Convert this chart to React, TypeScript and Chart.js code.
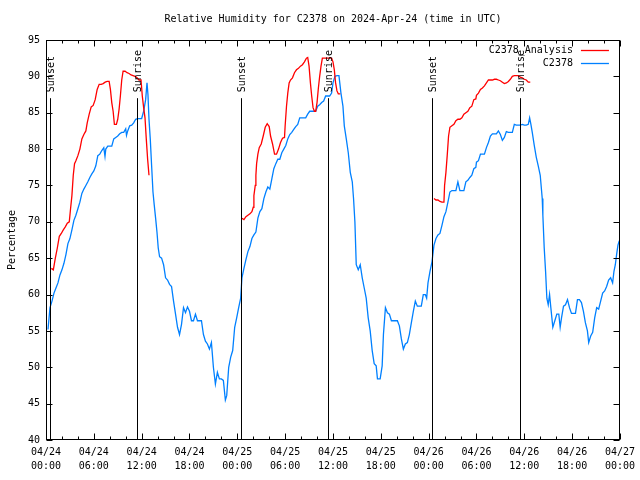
import React, { useEffect, useRef } from "react";
import { Chart, registerables } from "chart.js";

Chart.register(...registerables);

const TITLE = "Relative Humidity for C2378 on 2024-Apr-24 (time in UTC)";
const Y_LABEL = "Percentage";
const FONT = "'DejaVu Sans Mono', 'Liberation Mono', monospace";

const X_MIN = 0;
const X_MAX = 72;
const X_MINOR_STEP = 2;
const X_TICK_HOURS = [0, 6, 12, 18, 24, 30, 36, 42, 48, 54, 60, 66, 72];
const X_TICK_LABELS = [
  ["04/24", "00:00"], ["04/24", "06:00"], ["04/24", "12:00"], ["04/24", "18:00"],
  ["04/25", "00:00"], ["04/25", "06:00"], ["04/25", "12:00"], ["04/25", "18:00"],
  ["04/26", "00:00"], ["04/26", "06:00"], ["04/26", "12:00"], ["04/26", "18:00"],
  ["04/27", "00:00"],
];
const Y_MIN = 40;
const Y_MAX = 95;
const Y_STEP = 5;

const EVENT_HOURS = [0.5, 11.4, 24.5, 35.4, 48.4, 59.4];
const EVENT_LABELS = ["Sunset", "Sunrise", "Sunset", "Sunrise", "Sunset", "Sunrise"];
const EVENT_LINE_TOP = 87;

const SERIES_NAMES = ["C2378_Analysis", "C2378"];
const SERIES_COLORS = ["#ff0000", "#0080ff"];

// Observed relative humidity (C2378)
const OBS_HOURS = [
  0.25, 0.5, 0.75, 1.0, 1.25, 1.5, 1.75, 2.0, 2.25, 2.5, 2.75, 3.0, 3.25, 3.5, 3.75, 4.0,
  4.25, 4.5, 4.75, 5.0, 5.25, 5.5, 5.75, 6.0, 6.25, 6.5, 6.75, 7.0, 7.25, 7.4, 7.5, 7.75,
  8.0, 8.25, 8.5, 8.75, 9.0, 9.25, 9.5, 9.75, 10.0, 10.1, 10.25, 10.5, 10.75, 11.0, 11.25,
  11.5, 11.75, 12.0, 12.25, 12.5, 12.67, 12.79, 12.92, 13.08, 13.25, 13.42, 13.58, 13.75,
  13.92, 14.08, 14.25, 14.5, 14.75, 15.0, 15.25, 15.5, 15.75, 16.0, 16.25, 16.5, 16.75,
  17.0, 17.25, 17.5, 17.75, 18.0, 18.25, 18.5, 18.75, 19.0, 19.25, 19.5, 19.75, 20.0,
  20.25, 20.5, 20.75, 21.0, 21.25, 21.5, 21.75, 22.0, 22.25, 22.5, 22.67, 22.92, 23.17,
  23.42, 23.67, 23.92, 24.17, 24.42, 24.58, 24.83, 25.08, 25.33, 25.58, 25.83, 26.08,
  26.33, 26.58, 26.83, 27.08, 27.33, 27.58, 27.83, 28.08, 28.33, 28.58, 28.83, 29.08,
  29.33, 29.58, 29.83, 30.08, 30.33, 30.58, 30.83, 31.08, 31.33, 31.58, 31.83, 32.08,
  32.33, 32.58, 32.83, 33.08, 33.33, 33.58, 33.83, 34.08, 34.33, 34.58, 34.83, 35.08,
  35.33, 35.58, 35.83, 36.0, 36.25, 36.5, 36.75, 37.0, 37.25, 37.42, 37.67, 37.92, 38.17,
  38.42, 38.58, 38.75, 38.92, 39.17, 39.42, 39.67, 39.92, 40.17, 40.42, 40.67, 40.92,
  41.17, 41.42, 41.58, 41.92, 42.17, 42.33, 42.58, 42.83, 43.08, 43.33, 43.58, 43.83,
  44.08, 44.33, 44.58, 44.83, 45.08, 45.33, 45.58, 45.83, 46.08, 46.33, 46.58, 46.83,
  47.08, 47.33, 47.58, 47.75, 47.92, 48.17, 48.42, 48.67, 48.92, 49.17, 49.42, 49.67,
  49.92, 50.17, 50.42, 50.67, 50.92, 51.17, 51.42, 51.67, 51.92, 52.17, 52.42, 52.67,
  52.92, 53.17, 53.42, 53.67, 53.92, 54.0, 54.25, 54.5, 54.75, 55.0, 55.25, 55.5, 55.75,
  56.0, 56.25, 56.5, 56.75, 57.0, 57.25, 57.5, 57.75, 58.0, 58.25, 58.5, 58.75, 59.0,
  59.25, 59.5, 59.75, 60.0, 60.25, 60.5, 60.67, 60.83, 61.0, 61.25, 61.5, 61.75, 62.0,
  62.25, 62.33, 62.5, 62.67, 62.83, 63.0, 63.17, 63.33, 63.58, 63.83, 64.08, 64.33, 64.5,
  64.67, 64.92, 65.17, 65.42, 65.67, 65.92, 66.17, 66.42, 66.67, 66.92, 67.17, 67.42,
  67.67, 67.92, 68.08, 68.33, 68.58, 68.83, 69.08, 69.33, 69.58, 69.83, 70.08, 70.33,
  70.58, 70.83, 71.08, 71.25, 71.42, 71.58, 71.75, 71.92,
];
const OBS_VALUES = [
  55.2, 58.2, 59.1, 60.2, 60.9, 61.6, 62.7, 63.4, 64.3, 65.5, 67.0, 67.7, 68.9, 70.2, 70.9, 71.8,
  72.7, 73.9, 74.5, 75.0, 75.5, 76.1, 76.6, 77.0, 77.7, 79.1, 79.3, 79.8, 80.2, 79.0, 80.0, 80.4,
  80.4, 80.4, 81.4, 81.6, 81.8, 82.1, 82.3, 82.3, 82.8, 81.9, 82.5, 83.2, 83.3, 83.6, 84.1,
  84.2, 84.2, 84.2, 85.2, 86.8, 89.1, 87.5, 84.1, 81.4, 77.7, 74.1, 72.3, 70.5,
  68.6, 66.4, 65.2, 65.0, 64.1, 62.3, 62.0, 61.4, 61.1, 59.1, 57.3, 55.5, 54.5,
  55.9, 58.2, 57.5, 58.3, 57.7, 56.4, 56.4, 57.3, 56.4, 56.4, 56.4, 54.5, 53.6,
  53.2, 52.5, 53.4, 50.0, 47.7, 49.3, 48.4, 48.4, 48.2, 45.5, 46.1, 50.0, 51.4,
  52.3, 55.5, 56.8, 58.2, 59.5, 62.3, 63.6, 64.8, 65.9, 66.6, 67.7, 68.2,
  68.6, 70.5, 71.4, 71.8, 73.2, 74.1, 74.8, 74.5, 75.9, 77.3, 78.0, 78.6,
  78.6, 79.5, 80.0, 80.5, 81.4, 82.0, 82.3, 82.7, 83.1, 83.4, 84.3, 84.3,
  84.3, 84.3, 84.8, 85.2, 85.2, 85.2, 85.2, 85.9, 86.1, 86.4, 86.6, 87.3,
  87.3, 87.3, 87.7, 89.1, 90.0, 90.1, 90.1, 87.7, 85.9, 83.2, 81.4, 79.5, 76.8,
  75.5, 73.2, 70.0, 64.1, 63.4, 64.1, 62.3, 60.9, 59.5, 56.8, 55.0, 52.3,
  50.5, 50.2, 48.4, 48.4, 50.2, 54.5, 58.2, 57.5, 57.3, 56.4, 56.4, 56.4,
  56.4, 55.7, 53.9, 52.5, 53.2, 53.4, 54.5, 56.1, 57.7, 59.1, 58.4, 58.4,
  58.4, 60.0, 60.0, 59.5, 61.6, 63.2, 64.5, 66.8, 67.7, 68.2, 68.4, 69.5,
  70.7, 71.4, 72.7, 74.1, 74.3, 74.3, 74.3, 75.5, 74.3, 74.3, 74.3, 75.5,
  75.7, 76.1, 76.4, 77.3, 77.5, 78.2, 78.4, 79.3, 79.3, 79.3, 80.2, 80.9, 81.8,
  82.1, 82.1, 82.1, 82.5, 82.0, 81.2, 81.6, 82.4, 82.3, 82.3, 82.3, 83.4, 83.3,
  83.3, 83.3, 83.4, 83.3, 83.3, 83.4, 84.3, 83.4, 82.3, 80.5, 78.9, 77.7, 76.4,
  73.2, 70.9, 66.4, 63.2, 59.5, 58.6, 60.0, 58.2, 55.5, 56.4, 57.3, 57.3, 55.5,
  56.8, 58.4, 58.6, 59.3, 58.2, 57.4, 57.4, 57.4, 59.3, 59.3, 58.9, 57.7,
  56.1, 55.0, 53.4, 54.3, 54.8, 56.8, 58.2, 58.0, 59.1, 60.2, 60.5, 61.1,
  62.0, 62.3, 61.6, 63.2, 64.1, 65.5, 66.8, 67.4,
];

// Analysis relative humidity (C2378_Analysis); null separates the three runs
const ANA_HOURS = [
  0.67, 0.92, 1.17, 1.42, 1.67, 1.92, 2.17, 2.42, 2.67, 2.92, 3.08, 3.25, 3.42, 3.58, 3.75,
  4.0, 4.25, 4.5, 4.75, 5.0, 5.17, 5.42, 5.67, 5.92, 6.17, 6.42, 6.67, 6.92, 7.17, 7.42,
  7.67, 7.92, 8.08, 8.25, 8.42, 8.58, 8.83, 9.0, 9.17, 9.33, 9.5, 9.67, 9.92, 10.17, 10.42,
  10.67, 10.92, 11.17, 11.42, 11.67, 11.92, 12.08, 12.25, 12.42, 12.58, 12.75, 12.92,
  18.0,
  24.58, 24.83, 25.08, 25.33, 25.58, 25.83, 26.0, 26.08, 26.25, 26.33, 26.42, 26.58, 26.75,
  27.0, 27.25, 27.5, 27.75, 28.0, 28.17, 28.42, 28.67, 28.92, 29.17, 29.42, 29.67, 29.92,
  30.0, 30.17, 30.33, 30.5, 30.67, 30.92, 31.17, 31.42, 31.67, 31.92, 32.17, 32.42, 32.67,
  32.83, 33.0, 33.17, 33.33, 33.5, 33.67, 33.83, 34.0, 34.17, 34.33, 34.5, 34.67, 35.0,
  35.5, 35.83, 36.0, 36.17, 36.33, 36.5, 36.67, 36.92,
  42.0,
  48.67, 48.92, 49.17, 49.42, 49.67, 49.92, 50.0, 50.17, 50.33, 50.5, 50.67, 50.92, 51.17,
  51.42, 51.67, 51.92, 52.17, 52.42, 52.67, 52.92, 53.17, 53.42, 53.67, 53.92, 54.0, 54.25,
  54.5, 54.75, 55.0, 55.25, 55.5, 55.75, 56.0, 56.25, 56.5, 56.75, 57.0, 57.25, 57.5,
  57.75, 58.0, 58.25, 58.5, 58.75, 59.0, 59.25, 59.5, 59.75, 60.0, 60.25, 60.5, 60.75,
];
const ANA_VALUES = [
  63.6, 63.4, 65.0, 66.4, 68.0, 68.4, 68.9, 69.3, 69.8, 70.0, 71.8, 73.6, 76.4, 78.0, 78.4,
  79.1, 80.0, 81.4, 82.0, 82.5, 83.6, 84.8, 85.8, 86.0, 86.8, 88.2, 88.9, 88.9, 89.0, 89.2,
  89.3, 89.3, 88.2, 86.4, 85.2, 83.4, 83.4, 84.1, 85.5, 87.3, 89.5, 90.7, 90.7, 90.5, 90.4,
  90.2, 90.1, 90.0, 89.8, 89.5, 89.5, 87.3, 85.7, 84.3, 81.4, 78.6, 76.4,
  null,
  70.5, 70.3, 70.7, 70.9, 71.1, 71.4, 72.0, 73.6, 75.0, 76.4, 78.0, 79.3, 80.2,
  80.7, 81.8, 83.0, 83.5, 83.1, 81.8, 80.7, 79.3, 79.3, 80.0, 80.9, 81.5, 81.6,
  83.2, 85.9, 87.7, 89.1, 89.5, 89.8, 90.5, 90.9, 91.1, 91.4, 91.6, 92.0, 92.5,
  92.6, 91.4, 89.1, 87.3, 85.7, 85.2, 85.2, 86.4, 88.4, 90.0, 91.4, 92.5, 92.5,
  92.5, 92.5, 92.0, 90.9, 89.1, 88.0, 87.6, 87.6,
  null,
  73.2, 73.0, 73.0, 72.8, 72.7, 72.7, 75.0, 76.8, 79.1, 81.8, 83.0, 83.2, 83.4,
  83.9, 84.1, 84.1, 84.3, 84.8, 85.0, 85.2, 85.7, 85.9, 86.8, 86.9, 87.4, 87.7,
  88.2, 88.4, 88.7, 89.1, 89.5, 89.5, 89.5, 89.6, 89.6, 89.5, 89.4, 89.2, 89.0,
  89.1, 89.3, 89.6, 90.0, 90.1, 90.1, 90.1, 89.9, 89.8, 89.6, 89.5, 89.2, 89.2,
];

const framePlugin = {
  id: "gnuplotFrame",
  afterDatasetsDraw(chart: any) {
    const { ctx, chartArea } = chart;
    const xs = chart.scales.x;
    const ys = chart.scales.y;
    const L = Math.round(chartArea.left) + 0.5;
    const R = Math.round(chartArea.right) - 0.5;
    const T = Math.round(chartArea.top) + 0.5;
    const B = Math.round(chartArea.bottom) - 0.5;
    ctx.save();
    ctx.strokeStyle = "#000";
    ctx.lineWidth = 1;

    // event lines and labels
    const lineTop = ys.getPixelForValue(EVENT_LINE_TOP);
    ctx.font = `10px ${FONT}`;
    ctx.fillStyle = "#000";
    EVENT_HOURS.forEach((h, i) => {
      const x = Math.round(xs.getPixelForValue(h)) + 0.5;
      ctx.beginPath();
      ctx.moveTo(x, lineTop);
      ctx.lineTo(x, B);
      ctx.stroke();
      ctx.save();
      ctx.translate(x + 1, lineTop - 6);
      ctx.rotate(-Math.PI / 2);
      ctx.textAlign = "left";
      ctx.textBaseline = "middle";
      ctx.fillText(EVENT_LABELS[i], 0, 0);
      ctx.restore();
    });

    // border
    ctx.strokeRect(L, T, R - L, B - T);

    // x tics (inward, mirrored)
    for (let h = X_MIN; h <= X_MAX; h += X_MINOR_STEP) {
      const x = Math.round(xs.getPixelForValue(h)) + 0.5;
      const len = X_TICK_HOURS.includes(h) ? 6 : 3;
      ctx.beginPath();
      ctx.moveTo(x, B);
      ctx.lineTo(x, B - len);
      ctx.moveTo(x, T);
      ctx.lineTo(x, T + len);
      ctx.stroke();
    }
    // y tics
    for (let v = Y_MIN; v <= Y_MAX; v += Y_STEP) {
      const y = Math.round(ys.getPixelForValue(v)) + 0.5;
      ctx.beginPath();
      ctx.moveTo(L, y);
      ctx.lineTo(L + 6, y);
      ctx.moveTo(R, y);
      ctx.lineTo(R - 6, y);
      ctx.stroke();
    }

    // legend (inside, top right)
    ctx.textAlign = "right";
    ctx.textBaseline = "middle";
    SERIES_NAMES.forEach((name, i) => {
      const y = chartArea.top + 10 + i * 13;
      ctx.fillStyle = "#000";
      ctx.fillText(name, chartArea.right - 47, y);
      ctx.strokeStyle = SERIES_COLORS[i];
      ctx.lineWidth = 1.3;
      ctx.beginPath();
      ctx.moveTo(chartArea.right - 39, Math.round(y) + 0.5);
      ctx.lineTo(chartArea.right - 11, Math.round(y) + 0.5);
      ctx.stroke();
    });
    ctx.restore();
  },
};

export default function App() {
  const ref = useRef<HTMLCanvasElement | null>(null);

  useEffect(() => {
    if (!ref.current) return;
    const anaData = ANA_HOURS.map((h, i) => ({ x: h, y: ANA_VALUES[i] }));
    const obsData = OBS_HOURS.map((h, i) => ({ x: h, y: OBS_VALUES[i] }));
    const chart = new Chart(ref.current, {
      type: "line",
      data: {
        datasets: [
          {
            label: SERIES_NAMES[0],
            data: anaData as any,
            borderColor: SERIES_COLORS[0],
            borderWidth: 1.3,
            pointRadius: 0,
            spanGaps: false,
            tension: 0,
          },
          {
            label: SERIES_NAMES[1],
            data: obsData as any,
            borderColor: SERIES_COLORS[1],
            borderWidth: 1.3,
            pointRadius: 0,
            tension: 0,
          },
        ],
      },
      options: {
        animation: false,
        responsive: false,
        devicePixelRatio: 1,
        layout: { padding: { top: 0, right: 19, bottom: 0, left: 0 } },
        plugins: {
          legend: { display: false },
          tooltip: { enabled: false },
          title: {
            display: true,
            text: TITLE,
            fullSize: false,
            color: "#000",
            font: { family: FONT, size: 10, weight: "normal", lineHeight: 1.2 },
            padding: { top: 13, bottom: 15 },
          },
        },
        scales: {
          x: {
            type: "linear",
            min: X_MIN,
            max: X_MAX,
            afterBuildTicks: (scale: any) => {
              scale.ticks = X_TICK_HOURS.map((v) => ({ value: v }));
            },
            afterFit: (scale: any) => {
              scale.height = 40;
            },
            ticks: {
              autoSkip: false,
              maxRotation: 0,
              padding: 5,
              color: "#000",
              font: { family: FONT, size: 10, lineHeight: 1.4 },
              callback: (value: any) => {
                const i = X_TICK_HOURS.indexOf(Number(value));
                return i >= 0 ? X_TICK_LABELS[i] : "";
              },
            },
            grid: { drawOnChartArea: false, drawTicks: false },
            border: { display: false },
          },
          y: {
            type: "linear",
            min: Y_MIN,
            max: Y_MAX,
            afterFit: (scale: any) => {
              scale.width = 46;
            },
            ticks: {
              stepSize: Y_STEP,
              padding: 6,
              color: "#000",
              font: { family: FONT, size: 10 },
            },
            title: {
              display: true,
              text: Y_LABEL,
              color: "#000",
              font: { family: FONT, size: 10, lineHeight: 1.2 },
              padding: { top: 6, bottom: 0 },
            },
            grid: { drawOnChartArea: false, drawTicks: false },
            border: { display: false },
          },
        },
      },
      plugins: [framePlugin],
    });
    return () => chart.destroy();
  }, []);

  return (
    <div style={{ position: "fixed", left: 0, top: 0, width: 640, height: 480, background: "#fff" }}>
      <canvas ref={ref} width={640} height={480} style={{ width: 640, height: 480 }} />
    </div>
  );
}
